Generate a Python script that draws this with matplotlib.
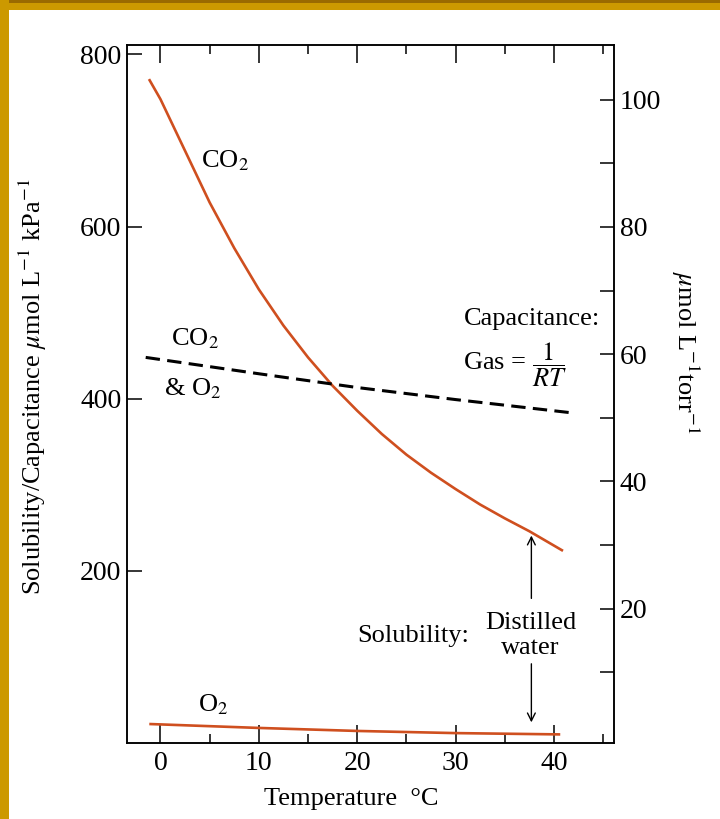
import matplotlib
matplotlib.use("Agg")
import matplotlib.pyplot as plt
from matplotlib.patches import Rectangle
from matplotlib.ticker import MultipleLocator

plt.rcParams['font.family'] = ['Liberation Serif', 'DejaVu Serif']
plt.rcParams['mathtext.fontset'] = 'stix'

# data
temp_co2 = [-1.1, 0, 2.5, 5, 7.5, 10, 12.5, 15, 17.5, 20, 22.5, 25, 27.5, 30,
            32.5, 35, 37.5, 40.8]
sol_co2 = [770, 748, 688, 628, 575, 527, 485, 448, 415, 386, 359, 335, 314, 295,
           277, 261, 246, 224]

temp_o2 = [-1, 10, 20, 30, 40.5]
sol_o2 = [22, 17.5, 14, 11.5, 10]

temp_cap = [-1.5, 10, 20, 30, 41.5]
cap_gas = [448, 429, 413, 399, 384]

xticks_major = [0, 10, 20, 30, 40]
yticks_left = [200, 400, 600, 800]
yticks_right = [20, 40, 60, 80, 100]
yticks_right_minor = [10, 30, 50, 70, 90]

orange = '#cf4f1f'
fs = 19
tfs = 20

fig = plt.figure(figsize=(7.2, 8.19), dpi=100)
ax = fig.add_axes([0.1764, 0.0928, 0.6764, 0.8523])

ax.plot(temp_co2, sol_co2, color=orange, lw=1.9)
ax.plot(temp_o2, sol_o2, color=orange, lw=1.9)
ax.plot(temp_cap, cap_gas, color='black', lw=2.2, dashes=(4.7, 2.4))

ax.set_xlim(-3.4, 46.1)
ax.set_ylim(0, 811)

ax.set_xticks(xticks_major)
ax.xaxis.set_minor_locator(MultipleLocator(5))
ax.set_yticks(yticks_left)
ax.tick_params(axis='x', which='major', direction='in', length=13, width=1.1,
               top=True, bottom=True, labelsize=tfs, pad=6)
ax.tick_params(axis='x', which='minor', direction='in', length=6.5, width=1.1,
               top=True, bottom=True)
ax.tick_params(axis='y', which='major', direction='in', length=11, width=1.1,
               right=False, labelsize=tfs, pad=4)
for s in ax.spines.values():
    s.set_linewidth(1.1)

ax2 = ax.twinx()
ax2.set_ylim(-1.1, 108.6)
ax2.set_yticks(yticks_right)
ax2.set_yticks(yticks_right_minor, minor=True)
ax2.tick_params(axis='y', which='both', direction='in', length=10, width=1.1,
                labelsize=tfs, pad=4)
for s in ax2.spines.values():
    s.set_linewidth(1.1)

ax.set_xlabel('Temperature  °C', fontsize=fs)
ax.xaxis.set_label_coords(0.46, -0.065)
ax.set_ylabel(r'Solubility/Capacitance $\mu$mol L$^{-1}$ kPa$^{-1}$', fontsize=fs)
ax.yaxis.set_label_coords(-0.16, 0.51)
ax2.set_ylabel(r'$\mu$mol L$^{-1}$torr$^{-1}$', fontsize=fs, rotation=270)
ax2.yaxis.set_label_coords(1.18, 0.56)

ax.text(6.56, 676, 'CO$_2$', fontsize=fs, ha='center', va='center')
ax.text(3.5, 470, 'CO$_2$', fontsize=fs, ha='center', va='center')
ax.text(3.3, 412, '& O$_2$', fontsize=fs, ha='center', va='center')
ax.text(37.8, 493, 'Capacitance:', fontsize=fs, ha='center', va='center')
ax.text(36.0, 439, r'Gas = $\dfrac{1}{RT}$', fontsize=fs, ha='center', va='center')
ax.text(5.34, 44, 'O$_2$', fontsize=fs, ha='center', va='center')
ax.text(25.7, 124, 'Solubility:', fontsize=fs, ha='center', va='center')
ax.text(37.6, 125, 'Distilled\nwater', fontsize=fs, ha='center', va='center',
        linespacing=1.2)

ax.annotate('', xy=(37.7, 241), xytext=(37.7, 168),
            arrowprops=dict(arrowstyle='->', lw=1.0, color='black',
                            shrinkA=0, shrinkB=0, mutation_scale=14))
ax.annotate('', xy=(37.7, 24), xytext=(37.7, 92),
            arrowprops=dict(arrowstyle='->', lw=1.0, color='black',
                            shrinkA=0, shrinkB=0, mutation_scale=14))

# gold frame on top and left edges
fig.patches.append(Rectangle((0, 1 - 10 / 819), 1, 10 / 819, transform=fig.transFigure,
                             facecolor='#cc9900', edgecolor='none', zorder=-1))
fig.patches.append(Rectangle((0, 1 - 3 / 819), 1, 3 / 819, transform=fig.transFigure,
                             facecolor='#9a6a00', edgecolor='none', zorder=-1))
fig.patches.append(Rectangle((0, 0), 9 / 720, 1, transform=fig.transFigure,
                             facecolor='#cc9900', edgecolor='none', zorder=-1))

fig.savefig('out.png', dpi=100)
